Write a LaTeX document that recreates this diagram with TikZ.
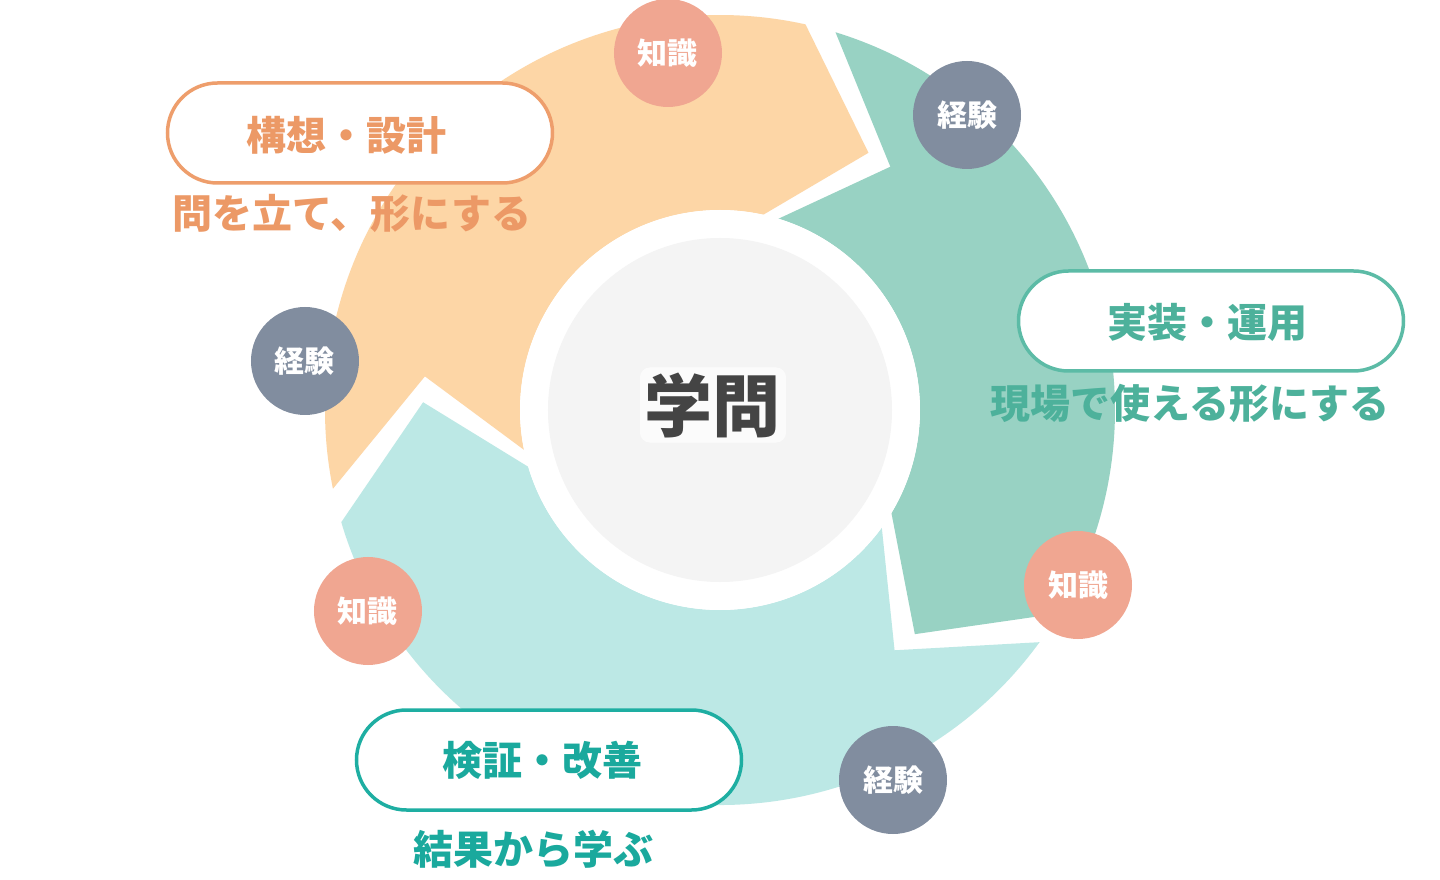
\documentclass[tikz,border=0pt]{standalone}
\usepackage{fontspec}
\setmainfont{Noto Sans CJK JP}
\usetikzlibrary{shapes.misc}
\definecolor{peach}{HTML}{FDD6A6}
\definecolor{mint}{HTML}{98D2C3}
\definecolor{aqua}{HTML}{BCE8E5}
\definecolor{core}{HTML}{F4F4F4}
\definecolor{salmon}{HTML}{F0A691}
\definecolor{slate}{HTML}{818D9F}
\definecolor{orangeline}{HTML}{EE9E6C}
\definecolor{orangetext}{HTML}{EC9966}
\definecolor{mintline}{HTML}{5CBBA6}
\definecolor{minttext}{HTML}{4DB19B}
\definecolor{tealline}{HTML}{1EAEA2}
\definecolor{tealtext}{HTML}{1AA99D}
\definecolor{inktext}{HTML}{444444}
\begin{document}
\begin{tikzpicture}[x=1pt,y=1pt,
  badge/.style={circle, minimum size=108pt, inner sep=0pt, text=white,
    font=\fontsize{30}{30}\selectfont\bfseries},
  know/.style={badge, fill=salmon},
  expe/.style={badge, fill=slate},
  pill/.style={rounded rectangle, minimum width=385pt, minimum height=100pt,
    line width=3.5pt, fill=white, inner sep=0pt},
  pilltext/.style={font=\fontsize{40}{40}\selectfont\bfseries, inner sep=0pt},
  subtext/.style={font=\fontsize{40}{40}\selectfont\bfseries, inner sep=0pt},
  ]
\useasboundingbox (-720,-470) rectangle (720,410);
\fill[white] (-720,-470) rectangle (720,410);

% ring segments (clockwise flow)
\fill[peach] (191.5:395) arc[start angle=191.5,end angle=77.5,radius=395]
  -- (60:297) -- (77.5:200) arc[start angle=77.5,end angle=191.5,radius=200]
  -- (173.5:297) -- cycle;
\fill[mint] (73:395) arc[start angle=73,end angle=-31,radius=395]
  -- (-49:297) -- (-31:200) arc[start angle=-31,end angle=73,radius=200]
  -- (55:297) -- cycle;
\fill[aqua] (-36:395) arc[start angle=-36,end angle=-163.5,radius=395]
  -- (-181.5:297) -- (-163.5:200) arc[start angle=-163.5,end angle=-36,radius=200]
  -- (-54:297) -- cycle;

% centre
\node[circle, fill=white, minimum size=400pt, inner sep=0pt] (hub) at (0,0) {};
\node[circle, fill=core, minimum size=344pt, inner sep=0pt] (hubcore) at (0,0) {};
\node[fill=white, fill opacity=0.7, text opacity=1, rounded corners=10pt,
  inner sep=5pt, text=inktext, font=\fontsize{68}{68}\selectfont\bfseries]
  (title) at (-7,5) {学問};

% badges
\node[know] (k1) at (-52,357) {知識};
\node[expe] (e1) at (247,295) {経験};
\node[expe] (e2) at (-415,49) {経験};
\node[know] (k2) at (-352,-201) {知識};
\node[know] (k3) at (358,-175) {知識};
\node[expe] (e3) at (173,-370) {経験};

% pills
\node[pill, draw=orangeline] (p1) at (-360,277) {};
\node[pilltext, text=orangetext] (p1t) at (-373,275) {構想・設計};
\node[pill, draw=mintline] (p2) at (491,89) {};
\node[pilltext, text=minttext] (p2t) at (487,88) {実装・運用};
\node[pill, draw=tealline] (p3) at (-171,-350) {};
\node[pilltext, text=tealtext] (p3t) at (-177,-350) {検証・改善};

% subtitles
\node[subtext, text=orangetext] (s1) at (-368,197) {問を立て、形にする};
\node[subtext, text=minttext] (s2) at (470,7) {現場で使える形にする};
\node[subtext, text=tealtext] (s3) at (-186,-439) {結果から学ぶ};
\end{tikzpicture}
\end{document}
